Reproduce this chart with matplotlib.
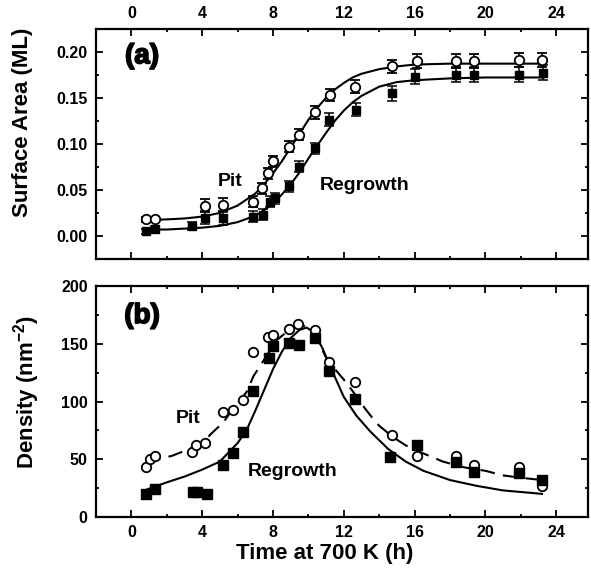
import matplotlib
matplotlib.use("Agg")
import matplotlib.pyplot as plt
import matplotlib.patheffects as pe
from matplotlib.ticker import MultipleLocator

plt.rcParams['font.family'] = ['Liberation Sans', 'DejaVu Sans']
plt.rcParams['font.weight'] = 'bold'
plt.rcParams['axes.labelweight'] = 'bold'
plt.rcParams['mathtext.fontset'] = 'custom'
plt.rcParams['mathtext.rm'] = 'Liberation Sans:bold'
plt.rcParams['mathtext.default'] = 'rm'

# (a) surface area, pit (open circles)
pit_a_x = [0.85, 1.32, 4.15, 5.15, 6.89, 7.36, 7.74, 8.02, 8.92, 9.49, 10.38,
           11.23, 12.64, 14.72, 16.13, 18.36, 19.34, 21.89, 23.2]
pit_a_y = [0.018, 0.018, 0.033, 0.034, 0.037, 0.052, 0.068, 0.081, 0.097, 0.110,
           0.134, 0.153, 0.162, 0.184, 0.190, 0.190, 0.190, 0.191, 0.191]
pit_a_err = [0.003, 0.003, 0.007, 0.007, 0.006, 0.006, 0.006, 0.006, 0.006, 0.006,
             0.007, 0.007, 0.007, 0.007, 0.008, 0.008, 0.008, 0.008, 0.008]

# (a) surface area, regrowth (filled squares)
reg_a_x = [0.81, 1.32, 3.4, 4.15, 5.15, 6.89, 7.45, 7.83, 8.1, 8.92, 9.49,
           10.38, 11.19, 12.7, 14.72, 16.04, 18.36, 19.34, 21.89, 23.26]
reg_a_y = [0.005, 0.008, 0.011, 0.020, 0.019, 0.021, 0.023, 0.037, 0.041, 0.054,
           0.075, 0.095, 0.126, 0.137, 0.155, 0.173, 0.175, 0.175, 0.175, 0.177]
reg_a_err = [0.003, 0.003, 0.004, 0.007, 0.007, 0.006, 0.006, 0.006, 0.006, 0.006,
             0.006, 0.006, 0.007, 0.007, 0.008, 0.008, 0.008, 0.008, 0.008, 0.008]

# (a) fitted curves
fit_pit_a_x = [0.8, 2, 3, 4, 5, 6, 7, 7.5, 8, 8.5, 9, 9.5, 10, 10.5, 11, 11.5,
               12, 12.5, 13, 14, 15, 16, 18, 20, 23.3]
fit_pit_a_y = [0.017, 0.018, 0.019, 0.021, 0.025, 0.033, 0.046, 0.056, 0.068,
               0.081, 0.096, 0.111, 0.126, 0.139, 0.150, 0.159, 0.166, 0.172,
               0.176, 0.181, 0.184, 0.186, 0.187, 0.187, 0.187]
fit_reg_a_x = [0.8, 2, 3, 4, 5, 6, 7, 7.5, 8, 8.5, 9, 9.5, 10, 10.5, 11, 11.5,
               12, 12.5, 13, 14, 15, 16, 18, 20, 23.3]
fit_reg_a_y = [0.007, 0.007, 0.008, 0.009, 0.011, 0.015, 0.022, 0.028, 0.035,
               0.045, 0.056, 0.069, 0.084, 0.098, 0.112, 0.125, 0.136, 0.145,
               0.152, 0.162, 0.167, 0.169, 0.171, 0.172, 0.172]

# (b) density, pit (open circles)
pit_b_x = [0.85, 1.04, 1.32, 3.45, 3.64, 4.15, 5.15, 5.75, 6.28, 6.89, 7.74,
           8.02, 8.92, 9.43, 10.38, 11.19, 12.64, 14.72, 16.13, 18.36, 19.34,
           21.89, 23.2]
pit_b_y = [43, 50, 53, 56, 62, 64, 91, 93, 101, 143, 156, 158, 163, 167, 162,
           134, 117, 71, 53, 53, 45, 43, 27]

# (b) density, regrowth (filled squares)
reg_b_x = [0.81, 1.32, 3.49, 3.72, 4.25, 5.15, 5.75, 6.28, 6.89, 7.77, 8.02,
           8.92, 9.49, 10.38, 11.19, 12.64, 14.62, 16.13, 18.36, 19.34, 21.89,
           23.2]
reg_b_y = [20, 24, 22, 22, 20, 45, 55, 74, 109, 138, 148, 151, 149, 155, 126,
           102, 52, 62, 48, 39, 38, 32]

# (b) curves
fit_pit_b_x = [0.9, 1.5, 2.3, 3.3, 3.9, 4.5, 5.2, 5.75, 6.5, 6.9, 7.45, 8.2, 9,
               9.7, 10.3, 11, 11.5, 12, 12.5, 13, 13.5, 14, 14.8, 15.5, 16.5,
               17.6, 18.8, 20, 21, 22, 23.2]
fit_pit_b_y = [45, 50, 53, 59, 62, 72, 82, 94, 108, 122, 135, 153, 163, 166,
               160, 138, 128, 119, 109, 98, 88, 79, 69, 62, 55, 48, 43, 40, 36,
               34, 32]
fit_reg_b_x = [0.9, 2, 3, 4, 5, 6, 6.5, 7, 7.5, 8, 8.5, 9, 9.5, 9.9, 10.3, 10.8,
               11.3, 12, 12.7, 13.5, 14.5, 15.5, 16.5, 18, 19.5, 21, 22.5, 23.2]
fit_reg_b_y = [24, 30, 35, 41, 48, 64, 75, 92, 110, 128, 143, 155, 162, 164,
               160, 146, 128, 104, 88, 74, 59, 48, 40, 32, 27, 23, 21, 20]

W, H = 591, 569
fig = plt.figure(figsize=(W / 100, H / 100), dpi=100)
ax1 = fig.add_axes([96 / W, 1 - 259 / H, (588 - 96) / W, (259 - 29) / H])
ax2 = fig.add_axes([96 / W, 1 - 517 / H, (588 - 96) / W, (517 - 286) / H])

heavy = [pe.withStroke(linewidth=1.2, foreground='k')]


def style(ax):
    for s in ax.spines.values():
        s.set_linewidth(1.6)
    ax.xaxis.set_major_locator(MultipleLocator(4))
    ax.xaxis.set_minor_locator(MultipleLocator(2))
    ax.tick_params(which='both', direction='in', top=True, right=True,
                   width=1.3, labelsize=11.5, pad=6)
    ax.tick_params(which='major', length=5)
    ax.tick_params(which='minor', length=2.5)
    ax.set_xlim(-2, 25.8)


# panel (a)
ax1.plot(fit_pit_a_x, fit_pit_a_y, color='k', lw=1.5)
ax1.plot(fit_reg_a_x, fit_reg_a_y, color='k', lw=1.5)
ax1.errorbar(pit_a_x, pit_a_y, yerr=pit_a_err, fmt='o', ms=6.8, mfc='white',
             mec='k', mew=1.3, ecolor='k', elinewidth=1.1, capsize=3.6,
             capthick=1.1, zorder=3)
ax1.errorbar(reg_a_x, reg_a_y, yerr=reg_a_err, fmt='s', ms=6.2, mfc='k',
             mec='k', ecolor='k', elinewidth=1.1, capsize=3.6, capthick=1.1,
             zorder=3)
style(ax1)
ax1.set_ylim(-0.025, 0.2246)
ax1.yaxis.set_major_locator(MultipleLocator(0.05))
ax1.yaxis.set_minor_locator(MultipleLocator(0.025))
ax1.yaxis.set_major_formatter(matplotlib.ticker.FormatStrFormatter('%.2f'))
ax1.tick_params(axis='x', labelbottom=False, labeltop=True)
ax1.text(0.6, 0.195, '(a)', fontsize=20, fontweight='bold', ha='center',
         va='center', path_effects=heavy)
ax1.text(5.6, 0.059, 'Pit', fontsize=14, fontweight='bold', ha='center', va='center')
ax1.text(13.2, 0.055, 'Regrowth', fontsize=14, fontweight='bold', ha='center', va='center')

# panel (b)
ax2.plot(fit_pit_b_x, fit_pit_b_y, color='k', lw=1.5, dashes=(7, 4))
ax2.plot(fit_reg_b_x, fit_reg_b_y, color='k', lw=1.5)
ax2.plot(pit_b_x, pit_b_y, 'o', ms=6.8, mfc='white', mec='k', mew=1.3, zorder=3)
ax2.plot(reg_b_x, reg_b_y, 's', ms=6.8, mfc='k', mec='k', zorder=3)
style(ax2)
ax2.set_ylim(0, 200)
ax2.yaxis.set_major_locator(MultipleLocator(50))
ax2.yaxis.set_minor_locator(MultipleLocator(25))
ax2.text(0.6, 174, '(b)', fontsize=20, fontweight='bold', ha='center',
         va='center', path_effects=heavy)
ax2.text(3.2, 85, 'Pit', fontsize=14, fontweight='bold', ha='center', va='center')
ax2.text(9.1, 39, 'Regrowth', fontsize=14, fontweight='bold', ha='center', va='center')

fig.text(23 / W, 1 - 122 / H, 'Surface Area (ML)', rotation=90, fontsize=16,
         fontweight='bold', ha='center', va='center')
fig.text(27 / W, 1 - 392 / H, 'Density (nm$^{-2}$)', rotation=90, fontsize=16,
         fontweight='bold', ha='center', va='center')
fig.text(325 / W, 1 - 553 / H, 'Time at 700 K (h)', fontsize=16,
         fontweight='bold', ha='center', va='center')

fig.savefig('out.png', dpi=100)
